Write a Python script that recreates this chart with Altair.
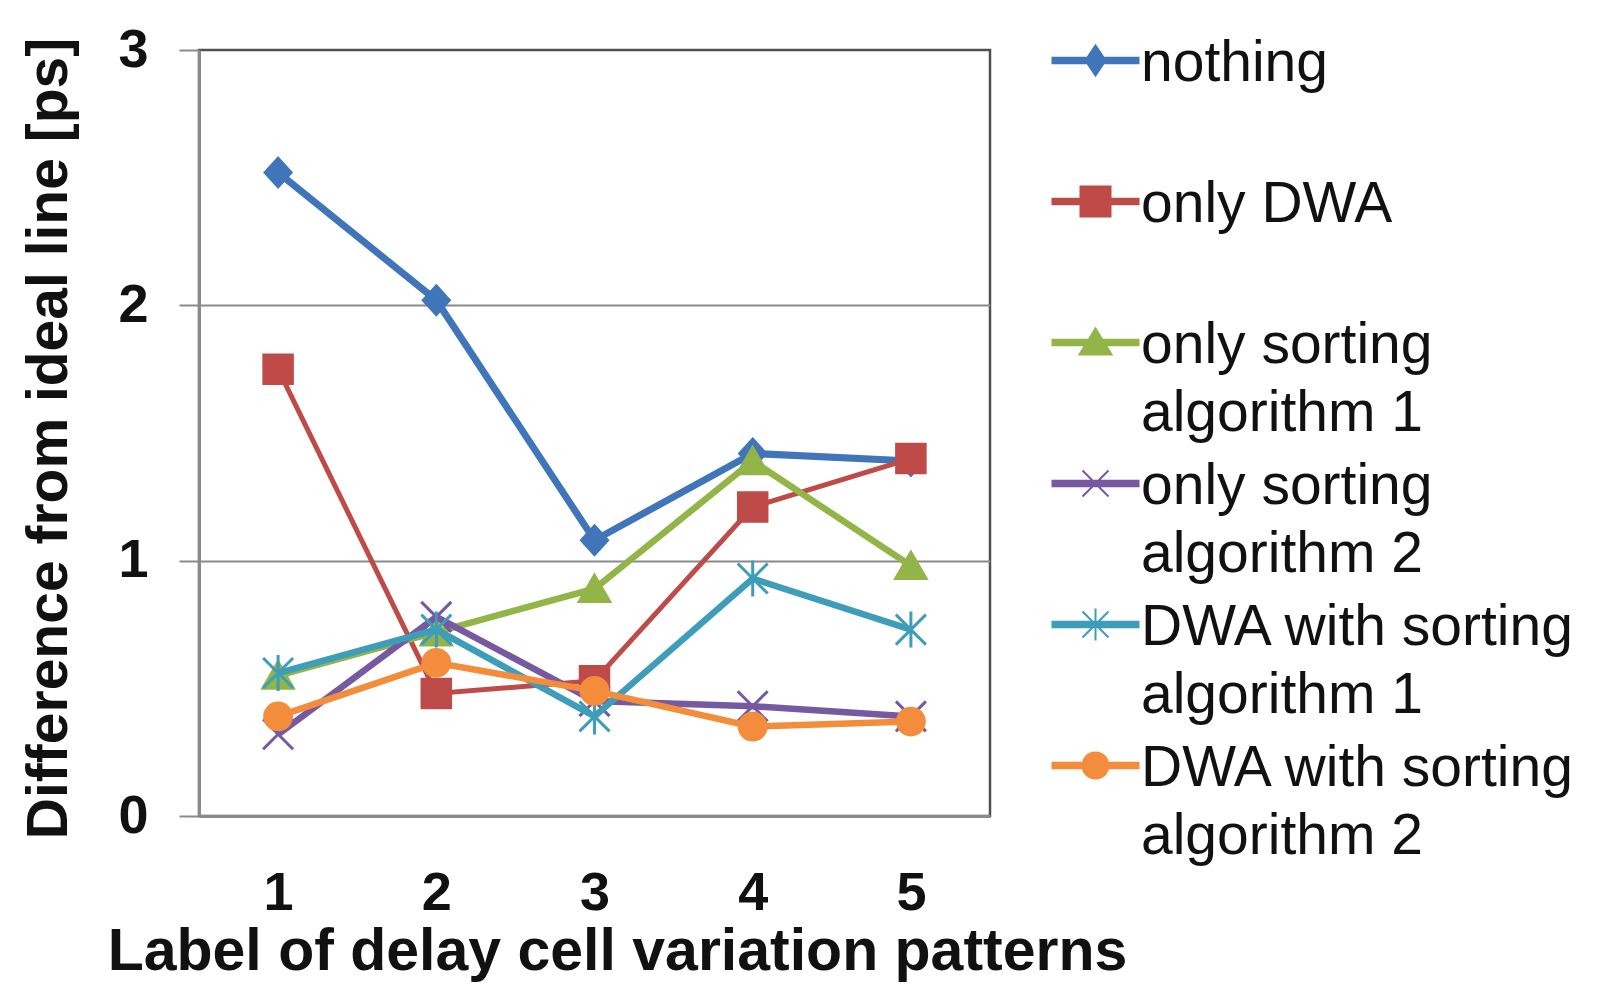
import altair as alt
import pandas as pd

# ---- data ----
patterns = ["1", "2", "3", "4", "5"]
series_names = [
    "nothing",
    "only DWA",
    "only sorting algorithm 1",
    "only sorting algorithm 2",
    "DWA with sorting algorithm 1",
    "DWA with sorting algorithm 2",
]
nothing = [2.52, 2.02, 1.08, 1.42, 1.39]
only_dwa = [1.75, 0.48, 0.53, 1.21, 1.40]
only_sort1 = [0.55, 0.72, 0.89, 1.39, 0.98]
only_sort2 = [0.32, 0.78, 0.45, 0.43, 0.39]
dwa_sort1 = [0.56, 0.73, 0.39, 0.93, 0.73]
dwa_sort2 = [0.39, 0.60, 0.49, 0.35, 0.37]
y_ticks = [0, 1, 2, 3]

# ---- styles ----
colors = ["#4175B9", "#BE4B48", "#93B548", "#7659A0", "#3E9DB8", "#F38D3C"]
FONT = "Liberation Sans"

all_values = [nothing, only_dwa, only_sort1, only_sort2, dwa_sort1, dwa_sort2]
df = pd.DataFrame(
    [
        {"pattern": p, "series": s, "value": v}
        for s, vals in zip(series_names, all_values)
        for p, v in zip(patterns, vals)
    ]
)

# marker shapes for the plot (unit paths)
plot_shapes = [
    ("M0,-1.1L1,0L0,1.1L-1,0Z", 784, True),
    ("M-1,-1L1,-1L1,1L-1,1Z", 900, True),
    ("M0,-1L1.1,0.9L-1.1,0.9Z", 900, True),
    ("M-1,-1L1,1M-1,1L1,-1", 900, False),
    ("M-1,-1L1,1M-1,1L1,-1M0,-1.2L0,1.2", 900, False),
    ("circle", 800, True),
]
line_widths = [7, 5, 6.5, 6.5, 6.5, 6.5]

# legend symbols: a line with the marker on it (shifted to first text line)
dy = -3.2
bar = f"M-4.3,{dy-0.27}L4.3,{dy-0.27}L4.3,{dy+0.27}L-4.3,{dy+0.27}Z"
legend_shapes = [
    bar + f"M0,{dy-1.5}L1,{dy}L0,{dy+1.5}L-1,{dy}Z",
    bar + f"M-1.5,{dy-1.5}L1.5,{dy-1.5}L1.5,{dy+1.5}L-1.5,{dy+1.5}Z",
    bar + f"M0,{dy-1.4}L1.6,{dy+1.2}L-1.6,{dy+1.2}Z",
    bar + f"M-1.3,{dy-1.3}L1.3,{dy+1.3}M-1.3,{dy+1.3}L1.3,{dy-1.3}",
    bar + f"M-1.3,{dy-1.3}L1.3,{dy+1.3}M-1.3,{dy+1.3}L1.3,{dy-1.3}M0,{dy-1.6}L0,{dy+1.6}",
    bar + f"M1.3,{dy}A1.3,1.3 0 1,1 -1.3,{dy}A1.3,1.3 0 1,1 1.3,{dy}Z",
]

x_enc = alt.X(
    "pattern:O",
    sort=patterns,
    scale=alt.Scale(padding=0.5),
    axis=alt.Axis(
        title="Label of delay cell variation patterns",
        titleFont=FONT,
        titleFontSize=59,
        titleFontWeight="bold",
        titleColor="#111",
        titleX=418,
        titleY=135,
        titleBaseline="middle",
        titleAlign="center",
        labelFont=FONT,
        labelFontSize=54,
        labelFontWeight="bold",
        labelColor="#111",
        labelAngle=0,
        labelBaseline="top",
        labelPadding=50,
        ticks=False,
        tickSize=0,
        domainColor="#8a8a8a",
        domainWidth=3,
        grid=False,
    ),
)
y_enc = alt.Y(
    "value:Q",
    scale=alt.Scale(domain=[0, 3], nice=False),
    axis=alt.Axis(
        values=y_ticks,
        title="Difference from ideal line [ps]",
        titleFont=FONT,
        titleFontSize=57,
        titleFontWeight="bold",
        titleColor="#111",
        titleX=-150,
        titleY=388,
        titleAngle=270,
        titleBaseline="middle",
        titleAlign="center",
        labelFont=FONT,
        labelFontSize=54,
        labelFontWeight="bold",
        labelColor="#111",
        labelPadding=31,
        tickSize=20,
        tickColor="#8a8a8a",
        tickWidth=2,
        domainColor="#8a8a8a",
        domainWidth=3,
        grid=True,
        gridColor="#8a8a8a",
        gridWidth=2,
        gridOpacity={"condition": {"test": "datum.value == 0 || datum.value == 3", "value": 0}, "value": 1},
    ),
)

layers = []
for name, col, (shape, size, filled), lw in zip(series_names, colors, plot_shapes, line_widths):
    sub = alt.Chart(df).transform_filter(alt.datum.series == name)
    layers.append(
        sub.mark_line(color=col, strokeWidth=lw).encode(x=x_enc, y=y_enc)
    )
    if filled:
        pm = sub.mark_point(shape=shape, size=size, filled=True, fill=col, stroke=col,
                            strokeWidth=1.5, opacity=1)
    else:
        pm = sub.mark_point(shape=shape, size=size, filled=False, stroke=col,
                            strokeWidth=3, opacity=1)
    layers.append(pm.encode(x=x_enc, y=y_enc))

label_expr = (
    "indexof(datum.label, ' algorithm') >= 0 ? "
    "[slice(datum.label, 0, indexof(datum.label, ' algorithm')), "
    "'\u00a0' + slice(datum.label, indexof(datum.label, ' algorithm') + 1)] "
    ": [datum.label, '\u00a0']"
)

legend_layer = (
    alt.Chart(df)
    .transform_filter("false")
    .mark_point(filled=True, strokeWidth=2, size=400, opacity=1)
    .encode(
        fill=alt.Fill(
            "series:N",
            scale=alt.Scale(domain=series_names, range=colors),
            legend=alt.Legend(
                orient="none",
                legendX=835,
                legendY=-28,
                title=None,
                padding=0,
                labelFont=FONT,
                labelFontSize=57,
                labelColor="#111",
                labelBaseline="bottom",
                labelLimit=800,
                labelExpr=label_expr,
                symbolSize=400,
                symbolStrokeWidth=2,
                symbolOffset=33,
                labelOffset=17,
                clipHeight=141,
                rowPadding=0,
                symbolOpacity=1,
            ),
        ),
        stroke=alt.Stroke("series:N", scale=alt.Scale(domain=series_names, range=colors)),
        shape=alt.Shape("series:N", scale=alt.Scale(domain=series_names, range=legend_shapes)),
    )
)
layers.append(legend_layer)

chart = (
    alt.layer(*layers)
    .properties(
        width=791,
        height=766,
        autosize=alt.AutoSizeParams(type="none"),
        padding={"left": 191, "top": 42, "right": 594, "bottom": 174},
    )
    .configure(
        view={"stroke": "#505050", "strokeWidth": 2.5},
        style={"guide-label": {"lineHeight": 68}},
    )
)

chart.save("out.html", embed_options={"renderer": "svg", "actions": False})
